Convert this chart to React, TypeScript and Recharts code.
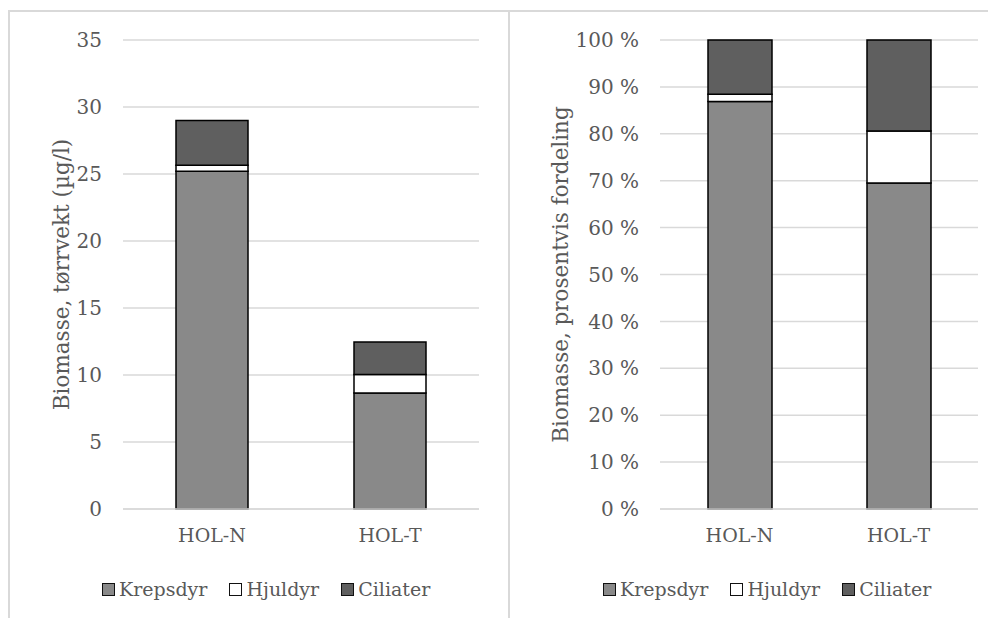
import { Bar, BarChart, CartesianGrid, XAxis, YAxis } from "recharts";

const categories = ["HOL-N", "HOL-T"];
const krepsdyr = [25.2, 8.66];
const hjuldyr = [0.45, 1.38];
const ciliater = [3.35, 2.42];

const absTicks = [0, 5, 10, 15, 20, 25, 30, 35];
const pctTicks = [0, 0.1, 0.2, 0.3, 0.4, 0.5, 0.6, 0.7, 0.8, 0.9, 1];

const SERIES = [
  { key: "krepsdyr", name: "Krepsdyr", color: "#898989" },
  { key: "hjuldyr", name: "Hjuldyr", color: "#ffffff" },
  { key: "ciliater", name: "Ciliater", color: "#5f5f5f" }
];

const FONT = "'DejaVu Serif', 'Liberation Serif', serif";
const TEXT = "#595959";
const GRID = "#d9d9d9";

const data = categories.map((name, i) => ({
  name,
  krepsdyr: krepsdyr[i],
  hjuldyr: hjuldyr[i],
  ciliater: ciliater[i]
}));

function AxisTitle({ viewBox, text, titleX }: any) {
  const y = viewBox.y + viewBox.height / 2;
  return (
    <text
      x={titleX}
      y={y}
      transform={`rotate(-90 ${titleX} ${y})`}
      textAnchor="middle"
      dominantBaseline="central"
      fill={TEXT}
      fontSize={21.5}
      fontFamily={FONT}
    >
      {text}
    </text>
  );
}

function LegendRow({ left }: { left: number }) {
  return (
    <div
      style={{
        position: "absolute",
        left,
        top: 564,
        display: "flex",
        alignItems: "center",
        gap: 22,
        fontFamily: FONT,
        fontSize: 19,
        color: TEXT,
        lineHeight: "26px",
        whiteSpace: "nowrap"
      }}
    >
      {SERIES.map((s) => (
        <span key={s.key} style={{ display: "flex", alignItems: "center", gap: 4 }}>
          <span
            style={{
              width: 11,
              height: 11,
              background: s.color,
              border: "1.5px solid #111",
              display: "inline-block"
            }}
          />
          {s.name}
        </span>
      ))}
    </div>
  );
}

const yTickStyle = { fill: TEXT, fontSize: 20, fontFamily: FONT };
const xTickStyle = { fill: TEXT, fontSize: 19, fontFamily: FONT };

function Panel({
  left,
  width,
  chartWidth,
  marginRight,
  axisWidth,
  percent,
  title,
  titleX,
  barSize,
  legendLeft
}: any) {
  return (
    <div
      style={{
        position: "absolute",
        left,
        top: 2,
        width,
        height: 608,
        borderTop: `2px solid ${GRID}`,
        borderLeft: `2px solid ${GRID}`,
        background: "#fff"
      }}
    >
      <BarChart
        width={chartWidth}
        height={608}
        data={data}
        stackOffset={percent ? "expand" : "none"}
        margin={{ top: 28, right: marginRight, bottom: 81, left: 0 }}
        style={{ fontFamily: FONT }}
      >
        <CartesianGrid vertical={false} stroke={GRID} strokeWidth={1.5} />
        <XAxis
          dataKey="name"
          tickLine={false}
          axisLine={{ stroke: GRID, strokeWidth: 1.5 }}
          tickSize={0}
          tickMargin={20}
          tick={xTickStyle}
          height={30}
        />
        <YAxis
          width={axisWidth}
          domain={percent ? [0, 1] : [0, 35]}
          ticks={percent ? pctTicks : absTicks}
          tickFormatter={(v: number) => (percent ? `${Math.round(v * 100)} %` : `${v}`)}
          axisLine={false}
          tickLine={false}
          tickSize={0}
          tickMargin={21}
          tick={yTickStyle}
          label={<AxisTitle text={title} titleX={titleX} />}
        />
        {SERIES.map((s) => (
          <Bar
            key={s.key}
            dataKey={s.key}
            name={s.name}
            stackId="a"
            fill={s.color}
            stroke="#000"
            strokeWidth={1.5}
            barSize={barSize}
            isAnimationActive={false}
          />
        ))}
      </BarChart>
      <LegendRow left={legendLeft} />
    </div>
  );
}

export default function App() {
  return (
    <div style={{ position: "relative", width: 988, height: 610, overflow: "hidden" }}>
      <Panel
        left={0}
        width={500}
        chartWidth={498}
        marginRight={29}
        axisWidth={113}
        percent={false}
        title="Biomasse, tørrvekt (µg/l)"
        titleX={51}
        barSize={72}
        legendLeft={92}
      />
      <Panel
        left={500}
        width={496}
        chartWidth={486}
        marginRight={18}
        axisWidth={150}
        percent={true}
        title="Biomasse, prosentvis fordeling"
        titleX={50}
        barSize={64}
        legendLeft={93}
      />
    </div>
  );
}
